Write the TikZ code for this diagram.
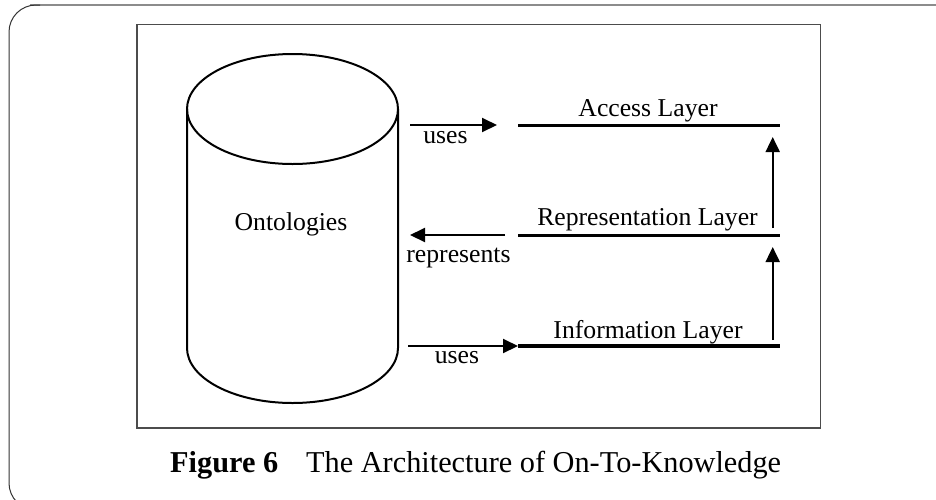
\documentclass[tikz,border=0pt]{standalone}
\usepackage{fontspec}
\setmainfont{Liberation Serif}
\usetikzlibrary{arrows.meta}
\begin{document}
\begin{tikzpicture}[x=1pt,y=-1pt,
  lbl/.style={font=\fontsize{25.7}{30}\selectfont, inner sep=0pt, anchor=base},
  layerline/.style={line width=3.3pt},
  arr/.style={line width=2pt, -{Triangle[length=15pt,width=14pt]}},
  cyl/.style={line width=2pt}]
\useasboundingbox (0,0) rectangle (936,499);
\clip (0,0) rectangle (936,499);
\fill[white] (0,0) rectangle (936,499);
% outer frame
\draw[line width=1.7pt, draw=black!45] (30,5) -- (940,5);
\draw[line width=1pt, draw=black!80, rounded corners=27pt] (40,5) -- (9,5) -- (9,510) -- (70,510);
% inner frame
\draw[line width=1.5pt, draw=black!70] (137,24.3) rectangle (820.7,428);
% cylinder
\draw[cyl] (292.5,109) ellipse [x radius=105.5pt, y radius=55pt];
\draw[cyl] (187,109) -- (187,348) arc[start angle=180, end angle=360, x radius=105.5pt, y radius=55pt] -- (398,109);
\node[lbl] (onto) at (291,230) {Ontologies};
% layers
\coordinate (accL) at (518,125.7);
\coordinate (accR) at (780,125.7);
\coordinate (repL) at (518,235.7);
\coordinate (repR) at (780,235.7);
\coordinate (infL) at (518,346);
\coordinate (infR) at (780,346);
\draw[layerline] (accL) -- (accR);
\draw[layerline] (repL) -- (repR);
\draw[layerline] (infL) -- (infR);
\node[lbl] (acc) at (648,116) {Access Layer};
\node[lbl] (rep) at (647.5,225) {Representation Layer};
\node[lbl] (inf) at (648,338) {Information Layer};
% vertical arrows
\coordinate (v1s) at (772.7,228);
\coordinate (v1e) at (772.7,137);
\coordinate (v2s) at (772.7,340);
\coordinate (v2e) at (772.7,247);
\draw[arr] (v1s) -- (v1e);
\draw[arr] (v2s) -- (v2e);
% horizontal arrows
\coordinate (u1s) at (410,125);
\coordinate (u1e) at (497,125);
\coordinate (rs) at (505,235);
\coordinate (re) at (410,235);
\coordinate (u2s) at (408,346);
\draw[arr] (u1s) -- (u1e);
\draw[arr] (rs) -- (re);
\draw[arr] (u2s) -- (infL);
\node[lbl] (uses1) at (445.5,143) {uses};
\node[lbl] (reps) at (458.5,262.5) {represents};
\node[lbl] (uses2) at (457,363) {uses};
% caption
\node[font=\fontsize{30.3}{34}\selectfont, inner sep=0pt, anchor=base west] (cap) at (170,472) {\textbf{Figure 6}\hspace{28pt}The Architecture of On-To-Knowledge};
\end{tikzpicture}
\end{document}
